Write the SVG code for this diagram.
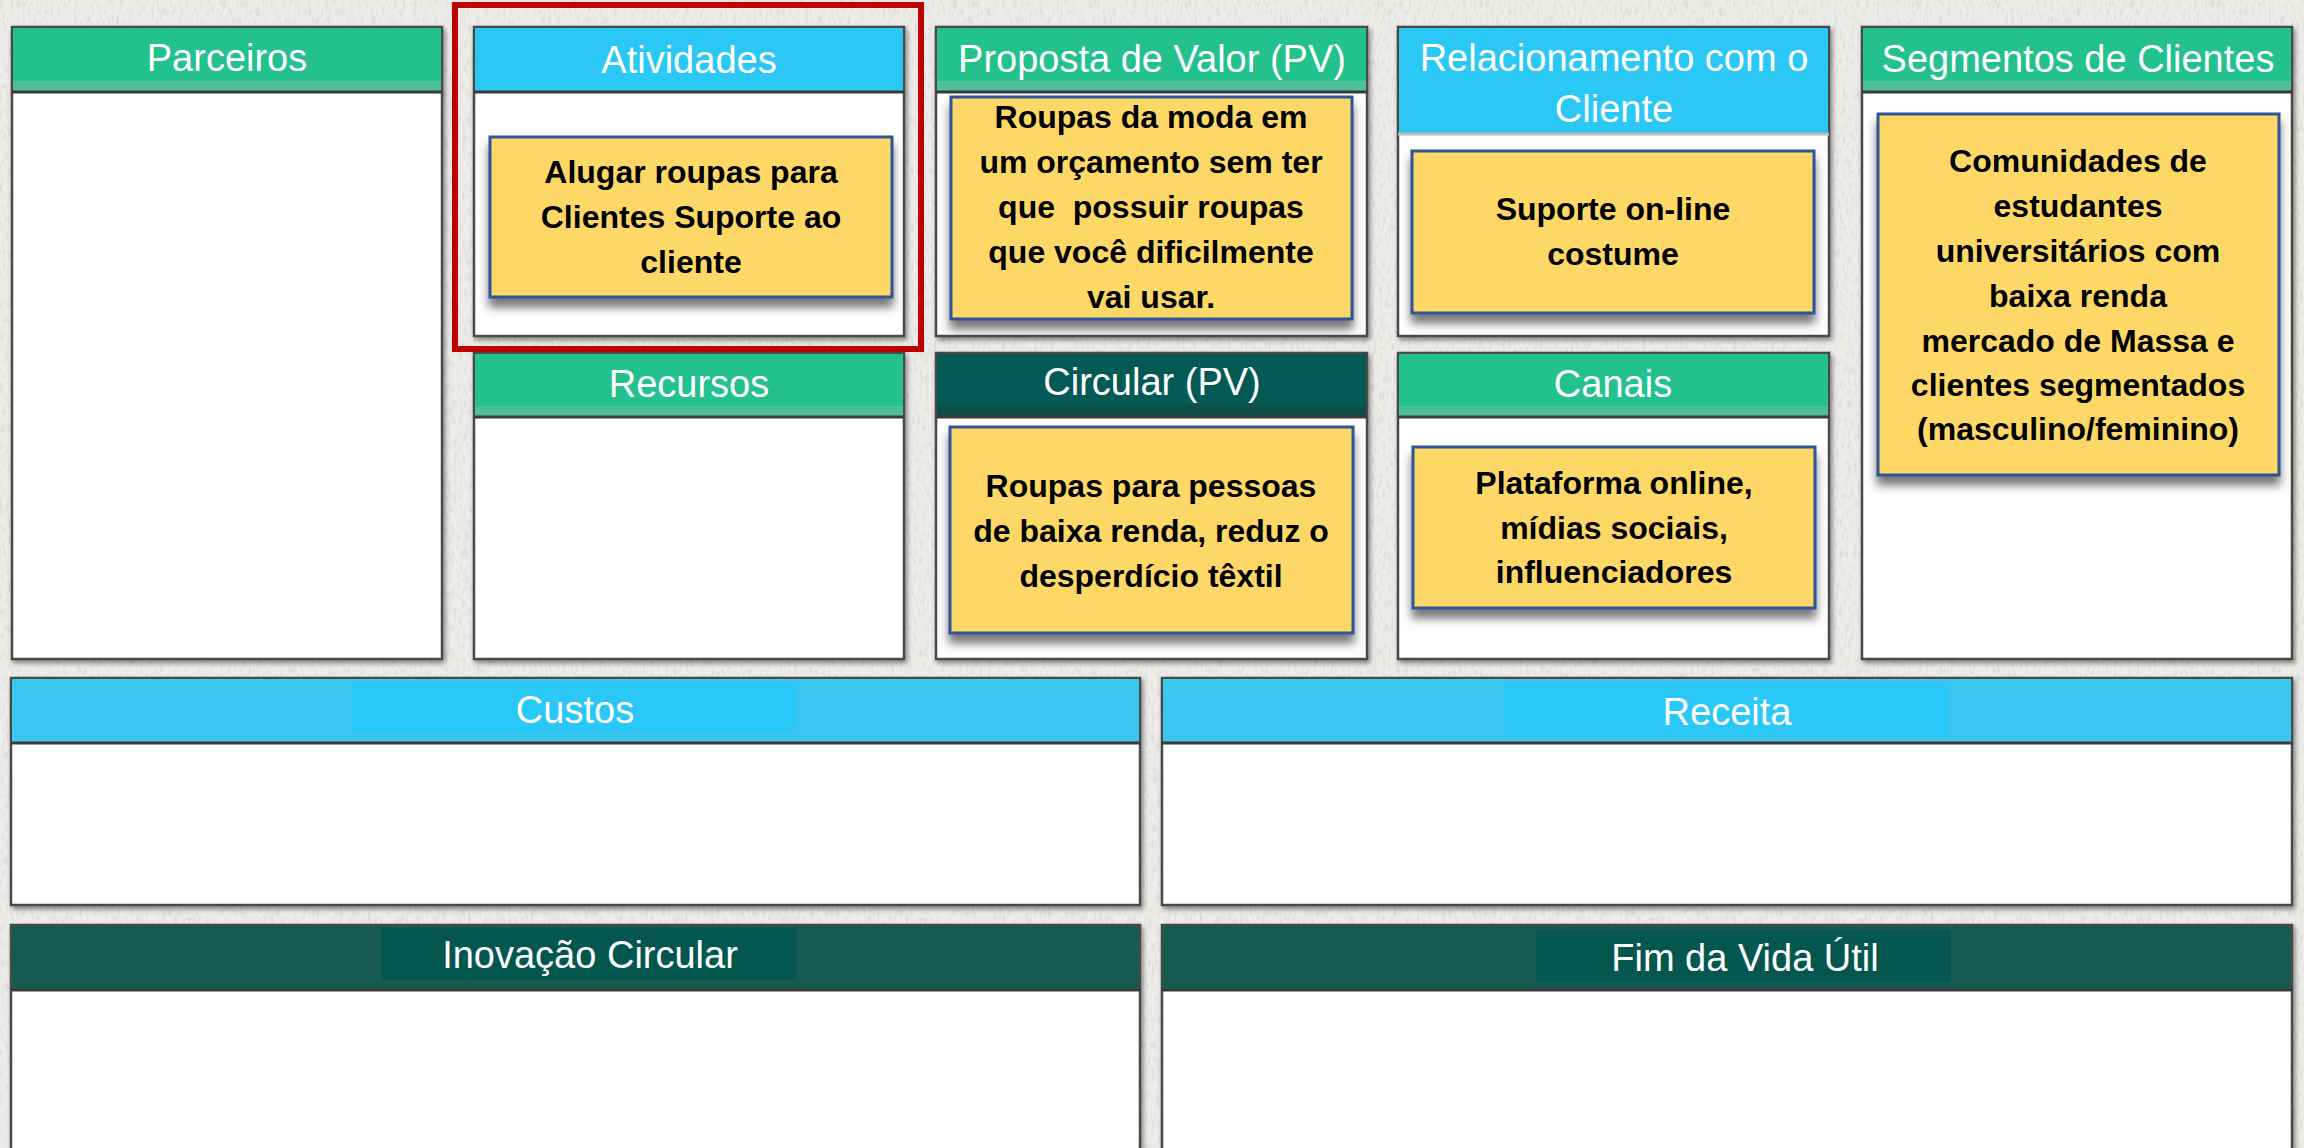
<svg xmlns="http://www.w3.org/2000/svg" width="2304" height="1148" viewBox="0 0 2304 1148">
<style>
.panel{fill:#ffffff;stroke:#4a4a4a;stroke-width:2.5}
.hdr-g{fill:#22C18E}
.band-g{fill:#4DC09A}
.hdr-b{fill:#2BC8F6}
.hdr-bo{fill:#3BC6F0}
.hdr-bi{fill:#29C8F7}
.hdr-t{fill:#035A54}
.band-t{fill:#0E4D48}
.hdr-to{fill:#165A52}
.hdr-ti{fill:#03574F}
.hline{stroke:#3a3a3a;stroke-width:3}
.ht{font-family:"Liberation Sans",Arial,sans-serif;font-size:38px;fill:#ffffff;text-anchor:middle}
.note{fill:#FDD866;stroke:#2F5597;stroke-width:3}
.nt{font-family:"Liberation Sans",Arial,sans-serif;font-size:32px;font-weight:bold;fill:#000000;text-anchor:middle;white-space:pre}
</style>
<defs>
<filter id="pshadow" x="-5%" y="-5%" width="110%" height="110%">
<feDropShadow dx="2" dy="3" stdDeviation="2.5" flood-color="#000" flood-opacity="0.45"/>
</filter>
<filter id="nshadow" x="-10%" y="-10%" width="120%" height="130%">
<feDropShadow dx="0" dy="9" stdDeviation="5" flood-color="#3a3a3a" flood-opacity="0.7"/>
</filter>
<filter id="paper" x="0" y="0" width="100%" height="100%">
<feTurbulence type="fractalNoise" baseFrequency="0.35 0.12" numOctaves="3" seed="4" result="n"/>
<feColorMatrix in="n" type="matrix" values="0 0 0 0 0.45  0 0 0 0 0.44  0 0 0 0 0.42  0 0 0 -2.2 1.15" result="m"/>
<feComposite in="m" in2="SourceGraphic" operator="in"/>
</filter>
</defs>
<rect x="0" y="0" width="2304" height="1148" fill="#EEECE8"/>
<rect x="0" y="0" width="2304" height="1148" fill="#000" filter="url(#paper)" opacity="0.35"/>

<g id="parceiros">
<rect class="panel" x="12" y="27" width="430" height="632" filter="url(#pshadow)"/>
<rect class="hdr-g" x="13" y="28" width="428" height="64"/>
<rect class="band-g" x="13" y="81" width="428" height="10"/>
<line class="hline" x1="12" y1="92" x2="442" y2="92"/>
<text class="ht" x="227" y="71">Parceiros</text>
</g>

<g id="atividades">
<rect class="panel" x="474" y="27" width="430" height="309" filter="url(#pshadow)"/>
<rect class="hdr-b" x="475" y="28" width="428" height="64"/>
<line class="hline" x1="474" y1="92" x2="904" y2="92"/>
<text class="ht" x="689" y="73">Atividades</text>
<rect class="note" x="490" y="137" width="402" height="160" filter="url(#nshadow)"/>
<text class="nt" x="691" y="183">Alugar roupas para</text>
<text class="nt" x="691" y="228">Clientes Suporte ao</text>
<text class="nt" x="691" y="273">cliente</text>
</g>

<g id="destaque">
<rect x="455" y="5" width="466" height="344" fill="none" stroke="#C00000" stroke-width="6"/>
</g>

<g id="recursos">
<rect class="panel" x="474" y="353" width="430" height="306" filter="url(#pshadow)"/>
<rect class="hdr-g" x="475" y="354" width="428" height="63"/>
<rect class="band-g" x="475" y="406" width="428" height="10"/>
<line class="hline" x1="474" y1="417" x2="904" y2="417"/>
<text class="ht" x="689" y="397">Recursos</text>
</g>

<g id="proposta">
<rect class="panel" x="936" y="27" width="431" height="309" filter="url(#pshadow)"/>
<rect class="hdr-g" x="937" y="28" width="429" height="64"/>
<rect class="band-g" x="937" y="81" width="429" height="10"/>
<line class="hline" x1="936" y1="92" x2="1367" y2="92"/>
<text class="ht" x="1152" y="72">Proposta de Valor (PV)</text>
<rect class="note" x="951" y="97" width="401" height="222" filter="url(#nshadow)"/>
<text class="nt" x="1151" y="128">Roupas da moda em</text>
<text class="nt" x="1151" y="173">um orçamento sem ter</text>
<text class="nt" x="1151" y="218" xml:space="preserve">que  possuir roupas</text>
<text class="nt" x="1151" y="263">que você dificilmente</text>
<text class="nt" x="1151" y="308">vai usar.</text>
</g>

<g id="circular">
<rect class="panel" x="936" y="353" width="431" height="306" filter="url(#pshadow)"/>
<rect class="hdr-t" x="937" y="354" width="429" height="63"/>
<rect class="band-t" x="937" y="405" width="429" height="11"/>
<line class="hline" x1="936" y1="417" x2="1367" y2="417"/>
<text class="ht" x="1152" y="395">Circular (PV)</text>
<rect class="note" x="950" y="427" width="403" height="206" filter="url(#nshadow)"/>
<text class="nt" x="1151" y="497">Roupas para pessoas</text>
<text class="nt" x="1151" y="542">de baixa renda, reduz o</text>
<text class="nt" x="1151" y="587">desperdício têxtil</text>
</g>

<g id="relacionamento">
<rect class="panel" x="1398" y="27" width="431" height="309" filter="url(#pshadow)"/>
<rect class="hdr-b" x="1399" y="28" width="429" height="106"/>
<line x1="1398" y1="134" x2="1829" y2="134" stroke="#bdbdbd" stroke-width="3"/>
<text class="ht" x="1614" y="71">Relacionamento com o</text>
<text class="ht" x="1614" y="122">Cliente</text>
<rect class="note" x="1412" y="151" width="402" height="162" filter="url(#nshadow)"/>
<text class="nt" x="1613" y="220">Suporte on-line</text>
<text class="nt" x="1613" y="265">costume</text>
</g>

<g id="canais">
<rect class="panel" x="1398" y="353" width="431" height="306" filter="url(#pshadow)"/>
<rect class="hdr-g" x="1399" y="354" width="429" height="63"/>
<rect class="band-g" x="1399" y="406" width="429" height="10"/>
<line class="hline" x1="1398" y1="417" x2="1829" y2="417"/>
<text class="ht" x="1613" y="397">Canais</text>
<rect class="note" x="1413" y="447" width="402" height="161" filter="url(#nshadow)"/>
<text class="nt" x="1614" y="494">Plataforma online,</text>
<text class="nt" x="1614" y="539">mídias sociais,</text>
<text class="nt" x="1614" y="583">influenciadores</text>
</g>

<g id="segmentos">
<rect class="panel" x="1862" y="27" width="430" height="632" filter="url(#pshadow)"/>
<rect class="hdr-g" x="1863" y="28" width="428" height="64"/>
<rect class="band-g" x="1863" y="81" width="428" height="10"/>
<line class="hline" x1="1862" y1="92" x2="2292" y2="92"/>
<text class="ht" x="2078" y="72">Segmentos de Clientes</text>
<rect class="note" x="1878" y="114" width="401" height="361" filter="url(#nshadow)"/>
<text class="nt" x="2078" y="172">Comunidades de</text>
<text class="nt" x="2078" y="217">estudantes</text>
<text class="nt" x="2078" y="262">universitários com</text>
<text class="nt" x="2078" y="307">baixa renda</text>
<text class="nt" x="2078" y="352">mercado de Massa e</text>
<text class="nt" x="2078" y="396">clientes segmentados</text>
<text class="nt" x="2078" y="440">(masculino/feminino)</text>
</g>

<g id="custos">
<rect class="panel" x="11" y="678" width="1129" height="227" filter="url(#pshadow)"/>
<rect class="hdr-bo" x="12" y="679" width="1127" height="64"/>
<rect class="hdr-bi" x="351" y="683" width="446" height="50"/>
<line class="hline" x1="11" y1="743" x2="1140" y2="743"/>
<text class="ht" x="575" y="723">Custos</text>
</g>

<g id="receita">
<rect class="panel" x="1162" y="678" width="1130" height="227" filter="url(#pshadow)"/>
<rect class="hdr-bo" x="1163" y="679" width="1128" height="64"/>
<rect class="hdr-bi" x="1503" y="685" width="446" height="50"/>
<line class="hline" x1="1162" y1="743" x2="2292" y2="743"/>
<text class="ht" x="1727" y="725">Receita</text>
</g>

<g id="inovacao">
<rect class="panel" x="11" y="925" width="1129" height="240" filter="url(#pshadow)"/>
<rect class="hdr-to" x="12" y="926" width="1127" height="64"/>
<rect class="hdr-ti" x="382" y="928" width="415" height="52"/>
<line class="hline" x1="11" y1="990" x2="1140" y2="990"/>
<text class="ht" x="590" y="968">Inovação Circular</text>
</g>

<g id="fim">
<rect class="panel" x="1162" y="925" width="1130" height="240" filter="url(#pshadow)"/>
<rect class="hdr-to" x="1163" y="926" width="1128" height="64"/>
<rect class="hdr-ti" x="1536" y="930" width="415" height="52"/>
<line class="hline" x1="1162" y1="990" x2="2292" y2="990"/>
<text class="ht" x="1745" y="971">Fim da Vida Útil</text>
</g>

<g id="connectors"/>
</svg>
